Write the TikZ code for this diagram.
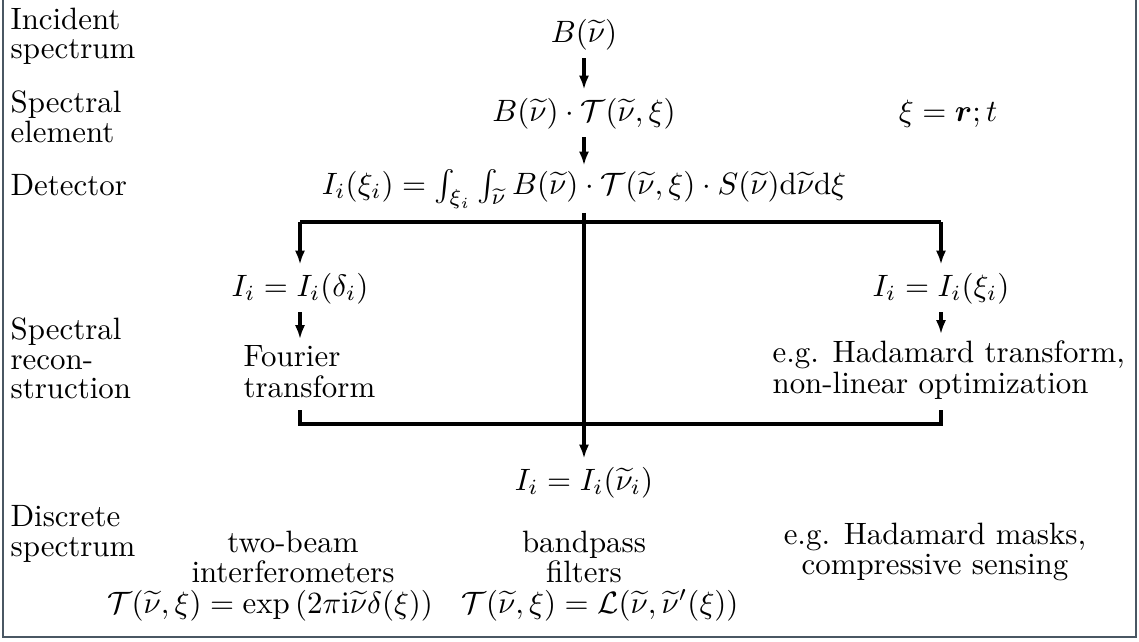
\documentclass[tikz,border=0pt]{standalone}
\usepackage{amsmath,amssymb}
\usetikzlibrary{calc,arrows.meta}
\usetikzlibrary{positioning}
\definecolor{frame-gray}{HTML}{4A5763}

\begin{document}
\begin{tikzpicture}[
    x=0.3237pt, y=-0.3237pt,
    font=\fontsize{10}{10}\selectfont,
    >={Latex[length=4.5pt,width=3.3pt]}
  ]
  \tikzset{
    rowlabel/.style={anchor=north west, align=left, inner sep=0pt, font=\fontsize{10}{9.6}\selectfont},
    formula/.style={anchor=base, inner sep=2.5pt},
    note/.style={anchor=north west, align=left, inner xsep=0pt, inner ysep=2pt},
    method/.style={anchor=north, align=center, inner sep=0pt},
    arrow/.style={->, line width=1.05pt},
    line/.style={line width=1.05pt},
    border/.style={draw=frame-gray, line width=0.8pt}
  }
  \useasboundingbox (0,0) rectangle (1139,641);
  \draw[border] (3,0) -- (3,637) -- (1136,637) -- (1136,0);

  % row labels
  \node (incident) [rowlabel] at (10,7) {Incident\\spectrum};
  \node (element) [rowlabel] at (10,90) {Spectral\\element};
  \node (detector) [rowlabel, anchor=base west] at (10,195) {Detector};
  \node (recon) [rowlabel] at (10,317) {Spectral\\recon-\\struction};
  \node (discrete) [rowlabel] at (10,505) {Discrete\\spectrum};

  % signal chain
  \node (b) [formula] at (584,42) {$B(\widetilde{\nu})$};
  \node (bt) [formula] at (584,121) {$B(\widetilde{\nu})\cdot\mathcal{T}(\widetilde{\nu},\xi)$};
  \node (xi) [formula] at (948,121) {$\xi=\boldsymbol{r};t$};
  \node (det) [formula, inner sep=1pt] at (584,194) {$I_i(\xi_i)=\int_{\xi_i}\int_{\widetilde{\nu}}B(\widetilde{\nu})\cdot\mathcal{T}(\widetilde{\nu},\xi)\cdot S(\widetilde{\nu})\mathrm{d}\widetilde{\nu}\mathrm{d}\xi$};
  \node (idelta) [formula] at (300,296) {$I_i=I_i(\delta_i)$};
  \node (ixi) [formula] at (941,296) {$I_i=I_i(\xi_i)$};
  \node (fourier) [note] at (243,339) {Fourier\\transform};
  \node (hadamard) [note] at (772,334) {e.g. Hadamard transform,\\non-linear optimization};
  \node (inu) [formula] at (584,490) {$I_i=I_i(\widetilde{\nu}_i)$};

  \draw[arrow] (b) -- (bt);
  \draw[arrow] (bt) -- (det);
  \draw[arrow] (det) -- (inu);

  \coordinate (split) at (584,222);
  \draw[line] (split -| idelta) -- (split -| ixi);
  \draw[arrow] (split -| idelta) -- (idelta);
  \draw[arrow] (split -| ixi) -- (ixi);
  \draw[arrow] (idelta) -- (idelta |- fourier.north);
  \draw[arrow] (ixi) -- (ixi |- hadamard.north);

  \coordinate (join) at (584,424);
  \coordinate (stub) at (584,410);
  \draw[line] (stub -| idelta) |- (join) -| (stub -| ixi);

  % spectrometer types
  \node (twobeam) [method] at (293,530) {two-beam\\interferometers};
  \node (twobeameq) [formula, inner sep=0pt] at (270,613) {$\mathcal{T}(\widetilde{\nu},\xi)=\exp\left(2\pi\mathrm{i}\widetilde{\nu}\delta(\xi)\right)$};
  \node (bandpass) [method] at (584,530) {bandpass\\filters};
  \node (bandpasseq) [formula, inner sep=0pt] at (600,613) {$\mathcal{T}(\widetilde{\nu},\xi)=\mathcal{L}(\widetilde{\nu},\widetilde{\nu}'(\xi))$};
  \node (masks) [method] at (935,522) {e.g. Hadamard masks,\\compressive sensing};
\end{tikzpicture}
\end{document}
